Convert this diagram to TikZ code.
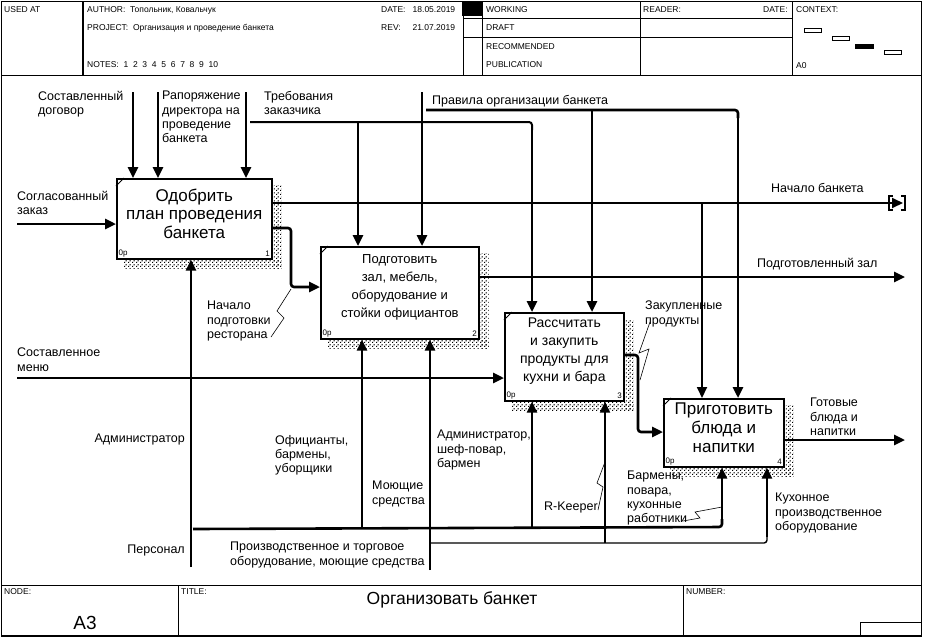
\documentclass[tikz,border=0pt]{standalone}
\usepackage{fontspec}
\setmainfont{Liberation Sans}
\usetikzlibrary{arrows.meta, positioning, calc, patterns}
\pgfdeclarepatternformonly{shdots}{\pgfpointorigin}{\pgfpoint{4pt}{4pt}}{\pgfpoint{4pt}{4pt}}{
  \pgfpathrectangle{\pgfpoint{0pt}{0pt}}{\pgfpoint{1.3pt}{1.3pt}}
  \pgfpathrectangle{\pgfpoint{2pt}{2pt}}{\pgfpoint{1.3pt}{1.3pt}}
  \pgfusepath{fill}}

\begin{document}
\begin{tikzpicture}[x=1pt, y=-1pt,
  func/.style={draw, line width=1.6pt, anchor=north west, inner sep=0pt},
  ftext/.style={align=center, inner sep=0pt},
  arr/.style={line width=2.6pt, -{Triangle[length=11pt,width=10pt]}, rounded corners=3pt},
  thinarr/.style={line width=1.8pt, -{Triangle[length=11pt,width=10pt]}, rounded corners=3pt},
  lbl/.style={font=\fontsize{12.5}{14.3}\selectfont, align=left, anchor=north west, inner sep=0pt},
  hdr/.style={font=\fontsize{8.5}{9}\selectfont, anchor=west, inner sep=0pt},
  sq/.style={line width=0.6pt}]
  \useasboundingbox (0,0) rectangle (925,638);
  % frame
  \draw[line width=1pt] (1,1) rectangle (921,636);
  \draw[line width=2pt] (1,636) -- (921,636);
  \draw[line width=1pt] (1,75) -- (921,75);
  \draw[line width=1pt] (1,585) -- (921,585);
  % header
  \draw[line width=1.6pt] (83,1) -- (83,75);
  \foreach \x in {463,482,640,792} {
    \draw[line width=0.8pt] (\x,1) -- (\x,75);
  }
  \draw[line width=0.8pt] (463,18) -- (792,18) (463,37) -- (792,37);
  \fill (462,1) rectangle (482,16);
  \node[hdr] (usedat) at (4,10) {USED AT};
  \node[hdr] (author) at (87,10) {AUTHOR:\ \ Топольник, Ковальчук};
  \node[hdr] (project) at (87,28) {PROJECT:\ \ Организация и проведение банкета};
  \node[hdr] (notes) at (87,65) {NOTES:\ \ 1\ \ 2\ \ 3\ \ 4\ \ 5\ \ 6\ \ 7\ \ 8\ \ 9\ \ 10};
  \node[hdr] (date) at (381,10) {DATE:\ \ \ 18.05.2019};
  \node[hdr] (rev) at (381,28) {REV:\ \ \ \ \ 21.07.2019};
  \node[hdr] (working) at (486,10) {WORKING};
  \node[hdr] (draft) at (486,28) {DRAFT};
  \node[hdr] (recom) at (486,47) {RECOMMENDED};
  \node[hdr] (publ) at (486,65) {PUBLICATION};
  \node[hdr] (reader) at (643,10) {READER:};
  \node[hdr] (rdate) at (763,10) {DATE:};
  \node[hdr] (context) at (796,10) {CONTEXT:};
  \node[hdr] (ctxnode) at (796,66) {A0};
  \foreach \x/\y in {804/28, 832/36, 884/50} {
    \draw[line width=0.8pt] (\x,\y) rectangle ++(17,4);
  }
  \fill (855,44) rectangle ++(19,5);
  % footer
  \draw[line width=0.8pt] (178,585) -- (178,636) (683,585) -- (683,636);
  \draw[line width=0.8pt] (860,622) rectangle (921,636);
  \node[hdr] (nodelbl) at (4,592) {NODE:};
  \node[hdr] (titlelbl) at (181,592) {TITLE:};
  \node[hdr] (numlbl) at (686,592) {NUMBER:};
  \node[font=\fontsize{19}{20}\selectfont] (nodeno) at (85,623) {A3};
  \node[font=\fontsize{17.5}{19}\selectfont] (title) at (452,600) {Организовать банкет};

  % activity boxes
  \node[func, minimum width=155pt, minimum height=80pt] (b1) at (116,178) {};
  \node[func, minimum width=158pt, minimum height=92pt] (b2) at (320,246) {};
  \node[func, minimum width=119pt, minimum height=88pt] (b3) at (504,312) {};
  \node[func, minimum width=120pt, minimum height=68pt] (b4) at (663,398) {};
  \node[ftext, font=\fontsize{17}{18.5}\selectfont] (b1t) at ($(b1.center)+(0,-5)$) {Одобрить\\план проведения\\банкета};
  \node[ftext, font=\fontsize{13}{18}\selectfont] (b2t) at ($(b2.center)+(0,-5)$) {Подготовить\\зал, мебель,\\оборудование и\\стойки официантов};
  \node[ftext, font=\fontsize{14}{18}\selectfont] (b3t) at ($(b3.center)+(0,-6)$) {Рассчитать\\и закупить\\продукты для\\кухни и бара};
  \node[ftext, font=\fontsize{17}{19}\selectfont] (b4t) at ($(b4.center)+(0,-5)$) {Приготовить\\блюда и\\напитки};
  % shadows, corner marks, numbers
  \foreach \b/\n in {b1/1, b2/2, b3/3, b4/4} {
    \fill[pattern=shdots] ($(\b.north east)+(1,7)$) rectangle ($(\b.south east)+(9,9)$);
    \fill[pattern=shdots] ($(\b.south west)+(7,1)$) rectangle ($(\b.south east)+(9,9)$);
    \draw[line width=0.8pt] ($(\b.north west)+(0,8)$) -- ($(\b.north west)+(8,0)$);
    \node[font=\fontsize{8}{9}\selectfont, anchor=south west, inner sep=2.5pt] at (\b.south west) {0р};
    \node[font=\fontsize{8}{9}\selectfont, anchor=south east, inner sep=2.5pt] at (\b.south east) {\n};
  }

  % controls
  \coordinate (dog) at (133,92);
  \coordinate (rasp) at (158,92);
  \coordinate (treb) at (246,92);
  \coordinate (t1) at (358,122);
  \coordinate (t2) at (532,122);
  \coordinate (prav) at (422,92);
  \coordinate (p1) at (592,110);
  \coordinate (p2) at (738,110);
  \draw[arr] (dog) -- (dog |- b1.north);
  \draw[arr] (rasp) -- (rasp |- b1.north);
  \draw[arr] (treb) -- (treb |- b1.north);
  \draw[line width=2pt, rounded corners=3pt] ($(treb |- t2)+(4,0)$) -- (t2) -- ($(t2)+(0,8)$);
  \draw[arr] (t1) -- (t1 |- b2.north);
  \draw[arr] ($(t2)+(0,6)$) -- (t2 |- b3.north);
  \draw[arr] (prav) -- (prav |- b2.north);
  \draw[line width=2.6pt, rounded corners=3pt] ($(prav |- p2)+(4,0)$) -- (p2) -- ($(p2)+(0,8)$);
  \draw[arr] ($(p2)+(0,6)$) -- (p2 |- b4.north);
  \draw[arr] (p1) -- (p1 |- b3.north);
  \node[lbl] (ldog) at (38,91) {Составленный\\договор};
  \node[lbl] (lrasp) at (162,91) {Рапоряжение\\директора на\\проведение\\банкета};
  \node[lbl] (ltreb) at (264,91) {Требования\\заказчика};
  \node[lbl] (lprav) at (432,95) {Правила организации банкета};

  % inputs
  \coordinate (sogl) at (17,224);
  \coordinate (menu) at (17,378);
  \coordinate (o12) at (291,228);
  \coordinate (k12) at (291,287);
  \coordinate (o34) at (638,355);
  \coordinate (k34) at (638,432);
  \draw[arr] (sogl) -- (sogl -| b1.west);
  \draw[arr] (menu) -- (menu -| b3.west);
  \draw[arr] (b1.east |- o12) -- (o12) -- (k12) -- (k12 -| b2.west);
  \draw[arr] (b3.east |- o34) -- (o34) -- (k34) -- (k34 -| b4.west);
  \node[lbl] (lsogl) at (17,191) {Согласованный\\заказ};
  \node[lbl] (lmenu) at (17,348) {Составленное\\меню};
  \node[lbl] (lnach) at (207,301) {Начало\\подготовки\\ресторана};
  \node[lbl] (lzak) at (645,301) {Закупленные\\продукты};
  \draw[sq] (271,337) -- (284,318) -- (277,311) -- (291,289);
  \draw[sq] (650,322) -- (639,353) -- (649,349) -- (640,380);

  % outputs
  \coordinate (nb) at (903,203);
  \coordinate (nb4) at (702,203);
  \coordinate (pz) at (905,277);
  \coordinate (gb) at (905,440);
  \draw[thinarr] (b1.east |- nb) -- (nb);
  \draw[line width=1.2pt] (893,196) -- (889,196) -- (889,210) -- (893,210);
  \draw[line width=1.2pt] (901,196) -- (905,196) -- (905,210) -- (901,210);
  \draw[thinarr] ($(nb4)+(0,1)$) -- (nb4 |- b4.north);
  \draw[arr] (b2.east |- pz) -- (pz);
  \draw[arr] (b4.east |- gb) -- (gb);
  \node[lbl] (lnb) at (771,183) {Начало банкета};
  \node[lbl] (lpz) at (757,258) {Подготовленный зал};
  \node[lbl] (lgb) at (810,398) {Готовые\\блюда и\\напитки};

  % mechanisms
  \coordinate (pers) at (191,567);
  \coordinate (m2) at (362,527);
  \coordinate (m3) at (532,527);
  \coordinate (m4) at (722,527);
  \coordinate (eq) at (430,570);
  \coordinate (e3) at (605,543);
  \coordinate (e4) at (767,543);
  \draw[arr] (pers) -- (pers |- b1.south);
  \draw[line width=2.6pt, rounded corners=3pt] ($(pers |- m4)+(2,2)$) -- (m4) -- ($(m4)+(0,-8)$);
  \draw[arr] ($(m4)+(0,-6)$) -- (m4 |- b4.south);
  \draw[arr] (m2) -- (m2 |- b2.south);
  \draw[arr] (m3) -- (m3 |- b3.south);
  \draw[arr] (eq) -- (eq |- b2.south);
  \draw[line width=1.4pt, rounded corners=3pt] (eq |- e4) -- (e4) -- ($(e4)+(0,-8)$);
  \draw[arr] ($(e4)+(0,-6)$) -- (e4 |- b4.south);
  \draw[thinarr] (e3) -- (e3 |- b3.south);
  \node[lbl, anchor=north east] (ladm) at (185,434) {Администратор};
  \node[lbl, anchor=north east] (lpers) at (185,545) {Персонал};
  \node[lbl] (loff) at (275,435) {Официанты,\\бармены,\\уборщики};
  \node[lbl] (lmoy) at (372,481) {Моющие\\средства};
  \node[lbl] (lshef) at (437,430) {Администратор,\\шеф-повар,\\бармен};
  \node[lbl] (lrk) at (544,502) {R-Keeper};
  \node[lbl] (lbar) at (627,471) {Бармены,\\повара,\\кухонные\\работники};
  \node[lbl] (lkuh) at (775,493) {Кухонное\\производственное\\оборудование};
  \node[lbl] (lequip) at (230,542) {Производственное и торговое\\оборудование, моющие средства};
  \draw[sq] (598,510) -- (603,487) -- (597,483) -- (605,462);
  \draw[sq] (683,521) -- (700,518) -- (695,512) -- (722,507);
\end{tikzpicture}
\end{document}
